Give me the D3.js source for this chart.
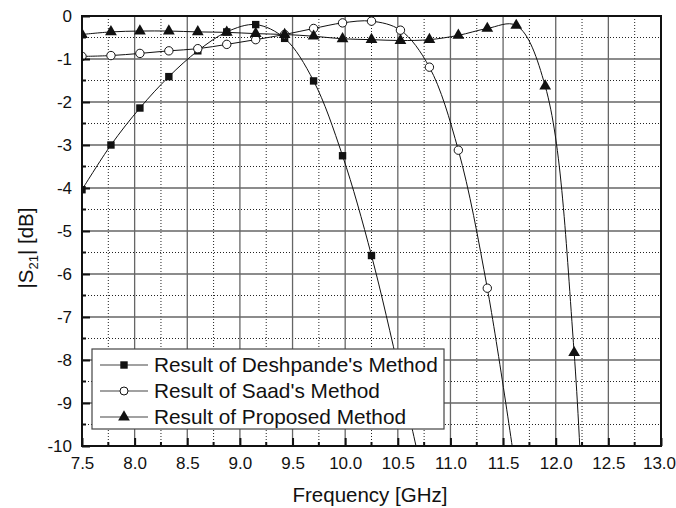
<!DOCTYPE html>
<html>
<head>
<meta charset="utf-8">
<script src="https://cdn.jsdelivr.net/npm/d3@7"></script>
<style>
  body { margin: 0; background: #fff; }
  text { font-family: Arial, "Liberation Sans", sans-serif; fill: #111; }
</style>
</head>
<body>
<div id="chart"></div>
<script>
// frequency points shared by all three curves (GHz)
let freq = [7.5, 7.775, 8.05, 8.325, 8.6, 8.875, 9.15, 9.425, 9.7, 9.975,
            10.25, 10.525, 10.8, 11.075, 11.35, 11.625, 11.9, 12.175, 12.45];

// |S21| in dB
let deshpande = [-4.04, -3.0, -2.14, -1.41, -0.81, -0.37, -0.2, -0.52, -1.51, -3.25,
                 -5.57, -8.4, -11.4];
let saad = [-0.94, -0.92, -0.87, -0.81, -0.76, -0.66, -0.55, -0.43, -0.29, -0.16,
            -0.12, -0.33, -1.19, -3.12, -6.33, -10.65];
let proposed = [-0.43, -0.37, -0.35, -0.35, -0.37, -0.38, -0.41, -0.43, -0.47, -0.53,
                -0.55, -0.57, -0.55, -0.45, -0.29, -0.22, -1.63, -7.83, -25];

let seriesNames = ["Result of Deshpande's Method", "Result of Saad's Method", "Result of Proposed Method"];
let seriesSymbols = ["square", "circle", "triangle"];

let xMajor = d3.range(7.5, 13.01, 0.5);
let xMinor = d3.range(7.75, 13, 0.5);
let yMajor = d3.range(-10, 0.01, 1);
let yMinor = d3.range(-9.5, 0, 1);

////////////////////////////////////////////////////////////////////////
// scales and svg

let svgW = 676, svgH = 508;
let plotL = 82, plotR = 661, plotT = 16, plotB = 446;

let xScale = d3.scaleLinear().domain([7.5, 13]).range([plotL, plotR]);
let yScale = d3.scaleLinear().domain([-10, 0]).range([plotB, plotT]);

let svg = d3.select("#chart").append("svg")
  .attr("width", svgW)
  .attr("height", svgH);

svg.append("defs").append("clipPath").attr("id", "plotClip")
  .append("rect")
  .attr("x", plotL).attr("y", plotT)
  .attr("width", plotR - plotL).attr("height", plotB - plotT);

// minor dotted grid
svg.append("g").selectAll("line").data(xMinor).enter().append("line")
  .attr("x1", d => xScale(d)).attr("x2", d => xScale(d))
  .attr("y1", plotT).attr("y2", plotB)
  .attr("stroke", "#222").attr("stroke-width", 1).attr("stroke-dasharray", "1,2");
svg.append("g").selectAll("line").data(yMinor).enter().append("line")
  .attr("y1", d => yScale(d)).attr("y2", d => yScale(d))
  .attr("x1", plotL).attr("x2", plotR)
  .attr("stroke", "#222").attr("stroke-width", 1).attr("stroke-dasharray", "1,2");

// major solid grid
svg.append("g").selectAll("line").data(xMajor).enter().append("line")
  .attr("x1", d => xScale(d)).attr("x2", d => xScale(d))
  .attr("y1", plotT).attr("y2", plotB)
  .attr("stroke", "#666").attr("stroke-width", 1.3);
svg.append("g").selectAll("line").data(yMajor).enter().append("line")
  .attr("y1", d => yScale(d)).attr("y2", d => yScale(d))
  .attr("x1", plotL).attr("x2", plotR)
  .attr("stroke", "#666").attr("stroke-width", 1.3);

////////////////////////////////////////////////////////////////////////
// curves and markers

let allSeries = [deshpande, saad, proposed];
let line = d3.line()
  .x((d, i) => xScale(freq[i]))
  .y(d => yScale(d))
  .curve(d3.curveCatmullRom.alpha(0.5));

let plot = svg.append("g").attr("clip-path", "url(#plotClip)");

allSeries.forEach(function(vals) {
  plot.append("path")
    .attr("d", line(vals))
    .attr("fill", "none")
    .attr("stroke", "#111")
    .attr("stroke-width", 1);
});

function drawMarker(sel, kind, cx, cy, r) {
  if (kind === "square") {
    sel.append("rect")
      .attr("x", cx - r).attr("y", cy - r)
      .attr("width", 2 * r).attr("height", 2 * r)
      .attr("fill", "#111");
  } else if (kind === "circle") {
    sel.append("circle")
      .attr("cx", cx).attr("cy", cy).attr("r", r)
      .attr("fill", "#fff").attr("stroke", "#111").attr("stroke-width", 1);
  } else {
    sel.append("path")
      .attr("d", d3.symbol(d3.symbolTriangle, 60)())
      .attr("transform", "translate(" + cx + "," + cy + ")")
      .attr("fill", "#111");
  }
}

allSeries.forEach(function(vals, s) {
  vals.forEach(function(v, i) {
    if (v < -10) return;
    let r = seriesSymbols[s] === "square" ? 3.7 : 4.2;
    drawMarker(plot, seriesSymbols[s], xScale(freq[i]), yScale(v), r);
  });
});

////////////////////////////////////////////////////////////////////////
// frame, ticks and labels

svg.append("rect")
  .attr("x", plotL).attr("y", plotT)
  .attr("width", plotR - plotL).attr("height", plotB - plotT)
  .attr("fill", "none").attr("stroke", "#111").attr("stroke-width", 2);

let xAxis = svg.append("g")
  .attr("transform", "translate(0," + plotB + ")")
  .call(d3.axisBottom(xScale).tickValues(xMajor).tickFormat(d3.format(".1f"))
        .tickSize(-8).tickPadding(11));
xAxis.select(".domain").remove();
xAxis.selectAll("line").attr("stroke", "#111").attr("stroke-width", 2);
xAxis.selectAll("text").attr("font-size", 17).attr("fill", "#111")
  .attr("font-family", "Arial, 'Liberation Sans', sans-serif");
// last label sits right at the window edge, pull it in a touch
xAxis.selectAll("text").filter(d => d > 12.9).attr("dx", -2);

svg.append("g").selectAll("line").data(xMinor).enter().append("line")
  .attr("x1", d => xScale(d)).attr("x2", d => xScale(d))
  .attr("y1", plotB).attr("y2", plotB - 4)
  .attr("stroke", "#111").attr("stroke-width", 2);

let yAxis = svg.append("g")
  .attr("transform", "translate(" + plotL + ",0)")
  .call(d3.axisLeft(yScale).tickValues(yMajor).tickFormat(d => String(d))
        .tickSize(-8).tickPadding(10));
yAxis.select(".domain").remove();
yAxis.selectAll("line").attr("stroke", "#111").attr("stroke-width", 2);
yAxis.selectAll("text").attr("font-size", 17).attr("fill", "#111")
  .attr("font-family", "Arial, 'Liberation Sans', sans-serif");

svg.append("g").selectAll("line").data(yMinor).enter().append("line")
  .attr("y1", d => yScale(d)).attr("y2", d => yScale(d))
  .attr("x1", plotL).attr("x2", plotL + 4)
  .attr("stroke", "#111").attr("stroke-width", 2);

// axis titles
svg.append("text")
  .attr("x", 370).attr("y", 502)
  .attr("text-anchor", "middle")
  .attr("font-size", 20.5)
  .text("Frequency [GHz]");

let yTitle = svg.append("text")
  .attr("transform", "translate(33,248) rotate(-90)")
  .attr("text-anchor", "middle")
  .attr("font-size", 20.5);
yTitle.append("tspan").text("|S");
yTitle.append("tspan").attr("font-size", 13).attr("dy", 5).text("21");
yTitle.append("tspan").attr("dy", -5).text("| [dB]");

////////////////////////////////////////////////////////////////////////
// legend

let legend = svg.append("g");
legend.append("rect")
  .attr("x", 92).attr("y", 349)
  .attr("width", 352).attr("height", 80)
  .attr("fill", "#fff").attr("stroke", "#444").attr("stroke-width", 1.2);

seriesNames.forEach(function(name, i) {
  let ly = 365 + i * 26;
  legend.append("line")
    .attr("x1", 100).attr("x2", 148)
    .attr("y1", ly).attr("y2", ly)
    .attr("stroke", "#444").attr("stroke-width", 1.2);
  drawMarker(legend, seriesSymbols[i], 124, ly, seriesSymbols[i] === "square" ? 3.7 : 4);
  legend.append("text")
    .attr("x", 154).attr("y", ly + 7)
    .attr("font-size", 20.8)
    .text(name);
});
</script>
</body>
</html>
